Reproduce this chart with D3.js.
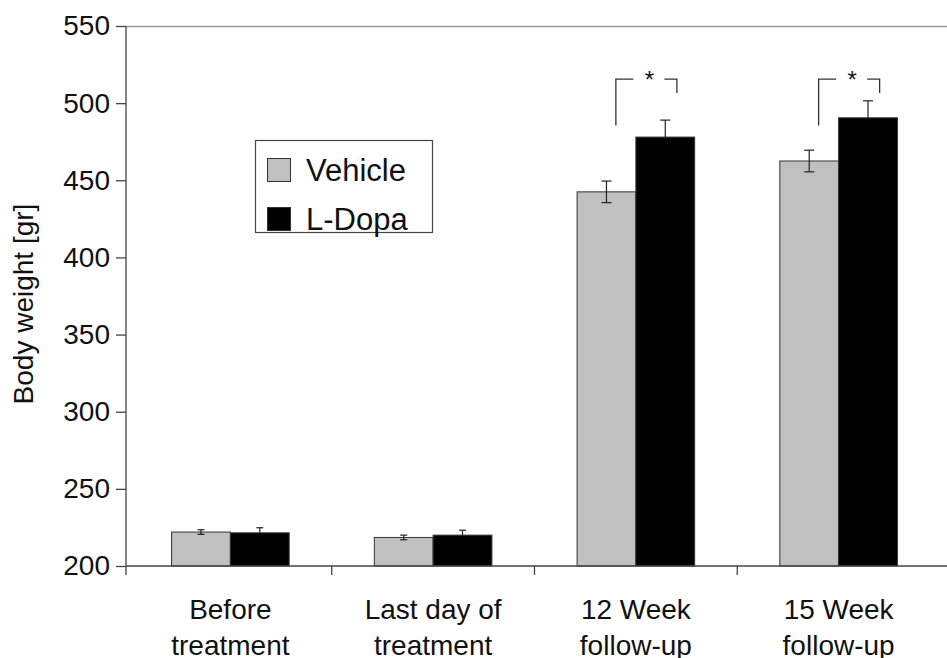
<!DOCTYPE html>
<html>
<head>
<meta charset="utf-8">
<script src="https://cdn.jsdelivr.net/npm/d3@7"></script>
<style>
  body { margin: 0; background: #fff; }
  svg text { font-family: "Liberation Sans", Arial, sans-serif; fill: #111; }
</style>
</head>
<body>
<svg id="chart" width="947" height="658"></svg>
<script>
// data
var categories = [["Before", "treatment"], ["Last day of", "treatment"], ["12 Week", "follow-up"], ["15 Week", "follow-up"]];
var seriesNames = ["Vehicle", "L-Dopa"];
var vehicleMean = [222, 218.5, 442.5, 462.5];
var vehicleErr = [1.5, 1.5, 7, 7];
var ldopaMean = [221.5, 220, 478, 490.5];
var ldopaErr = [3.3, 3.2, 11, 11];
var yTicks = [200, 250, 300, 350, 400, 450, 500, 550];
// significance brackets: group index, left bottom, top, right bottom (in gr)
var sigGroups = [2, 3];
var sigLeftLow = [485.5, 485.5];
var sigTop = [515.6, 515.6];
var sigRightLow = [506.6, 506.6];

var colors = ["#c0c0c0", "#000000"];

var svg = d3.select('#chart');
// note: "top" is window.top, can't be reused as a global name
var plotLeft = 126, plotRight = 947, plotTop = 26, plotBottom = 566;

var y = d3.scaleLinear().domain([200, 550]).range([plotBottom, plotTop]);
var x = d3.scaleBand().domain(d3.range(categories.length)).range([129, 940])
    .paddingInner(0.42).paddingOuter(0.21);
var xs = d3.scaleBand().domain([0, 1]).range([0, x.bandwidth()]);

// top border of plot area
svg.append('line').attr('x1', plotLeft).attr('x2', plotRight).attr('y1', plotTop + 0.5).attr('y2', plotTop + 0.5)
  .attr('stroke', '#999').attr('stroke-width', 1.5);

// bars
var series = [
  {name: seriesNames[0], mean: vehicleMean, err: vehicleErr},
  {name: seriesNames[1], mean: ldopaMean, err: ldopaErr}
];
series.forEach(function (s, si) {
  var g = svg.append('g');
  g.selectAll('rect').data(s.mean).enter().append('rect')
    .attr('x', function (d, i) { return x(i) + xs(si); })
    .attr('y', function (d) { return y(d); })
    .attr('width', xs.bandwidth())
    .attr('height', function (d) { return plotBottom - y(d); })
    .attr('fill', colors[si])
    .attr('stroke', '#333').attr('stroke-width', 1);
});

// error bars (vehicle both ways, L-Dopa upward only since the black bar hides the rest)
series.forEach(function (s, si) {
  s.mean.forEach(function (m, i) {
    var cx = x(i) + xs(si) + xs.bandwidth() / 2;
    var lo = si === 0 ? m - s.err[i] : m;
    var hi = m + s.err[i];
    var cap = s.err[i] > 4 ? 5 : 3.5;
    svg.append('line').attr('x1', cx).attr('x2', cx).attr('y1', y(lo)).attr('y2', y(hi))
      .attr('stroke', '#222').attr('stroke-width', 1.2);
    svg.append('line').attr('x1', cx - cap).attr('x2', cx + cap).attr('y1', y(hi)).attr('y2', y(hi))
      .attr('stroke', '#222').attr('stroke-width', 1.2);
    if (si === 0) {
      svg.append('line').attr('x1', cx - cap).attr('x2', cx + cap).attr('y1', y(lo)).attr('y2', y(lo))
        .attr('stroke', '#222').attr('stroke-width', 1.2);
    }
  });
});

// y axis
var yAxis = d3.axisLeft(y).tickValues(yTicks).tickSize(10).tickPadding(6);
var ya = svg.append('g').attr('transform', 'translate(' + plotLeft + ',0)').call(yAxis);
ya.select('.domain').attr('stroke', '#444').attr('stroke-width', 1.3).attr('d', 'M0,' + plotTop + 'V' + (plotBottom + 9));
ya.selectAll('.tick line').attr('stroke', '#444').attr('stroke-width', 1.3);
ya.selectAll('.tick text').attr('font-size', 28).attr('fill', '#111')
  .style('font-family', '"Liberation Sans", Arial, sans-serif');

// x axis line and group separators
svg.append('line').attr('x1', plotLeft).attr('x2', plotRight).attr('y1', plotBottom).attr('y2', plotBottom)
  .attr('stroke', '#444').attr('stroke-width', 1.3);
d3.range(1, categories.length).forEach(function (i) {
  var bx = x(i) - (x.step() - x.bandwidth()) / 2;
  svg.append('line').attr('x1', bx).attr('x2', bx).attr('y1', plotBottom).attr('y2', plotBottom + 9)
    .attr('stroke', '#444').attr('stroke-width', 1.3);
});

// category labels (second line is cut by the bottom edge, as in the original)
categories.forEach(function (c, i) {
  var t = svg.append('text').attr('text-anchor', 'middle').attr('font-size', 28)
    .attr('x', x(i) + x.bandwidth() / 2).attr('y', 619);
  c.forEach(function (line, li) {
    t.append('tspan').attr('x', x(i) + x.bandwidth() / 2).attr('dy', li === 0 ? 0 : 36).text(line);
  });
});

// y axis title
svg.append('text').attr('transform', 'translate(33,304) rotate(-90)')
  .attr('text-anchor', 'middle').attr('font-size', 28).text('Body weight [gr]');

// significance brackets
sigGroups.forEach(function (gi, k) {
  var c = x(gi) + x.bandwidth() / 2;
  var lx = c - 20, rx = c + 41;
  var mid = (lx + rx) / 2 + 3;
  var g = svg.append('g').attr('stroke', '#333').attr('stroke-width', 1.3).attr('fill', 'none');
  g.append('path').attr('d', 'M' + lx + ',' + y(sigLeftLow[k]) + 'V' + y(sigTop[k]) + 'H' + (mid - 16));
  g.append('path').attr('d', 'M' + (mid + 15) + ',' + y(sigTop[k]) + 'H' + rx + 'V' + y(sigRightLow[k]));
  svg.append('text').attr('x', mid).attr('y', y(sigTop[k]) + 9).attr('text-anchor', 'middle')
    .attr('font-size', 24).text('*');
});

// legend
var lg = svg.append('g').attr('transform', 'translate(255,140)');
lg.append('rect').attr('x', 0.5).attr('y', 0.5).attr('width', 177).attr('height', 92)
  .attr('fill', '#fff').attr('stroke', '#444').attr('stroke-width', 1.2);
seriesNames.forEach(function (n, i) {
  lg.append('rect').attr('x', 12.5).attr('y', 18.5 + i * 49).attr('width', 23).attr('height', 23)
    .attr('fill', colors[i]).attr('stroke', '#333').attr('stroke-width', 1);
  lg.append('text').attr('x', 51).attr('y', 41 + i * 49).attr('font-size', 31).text(n);
});
</script>
</body>
</html>
